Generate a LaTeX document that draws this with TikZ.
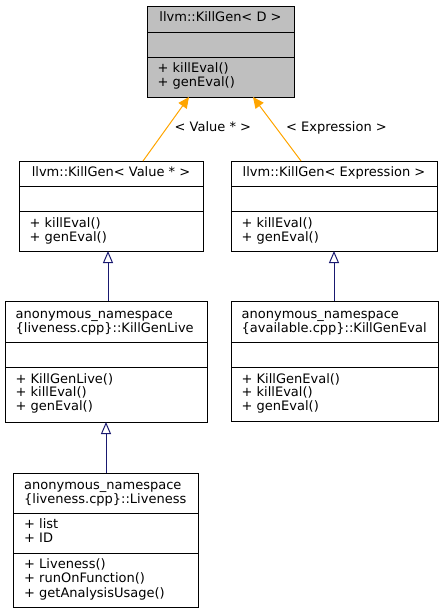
\documentclass[tikz,border=0pt]{standalone}
\usepackage{fontspec}
\setmainfont{DejaVu Sans}
\usetikzlibrary{arrows.meta}
\definecolor{boxgray}{HTML}{BFBFBF}
\definecolor{edgeline}{HTML}{000000}
\definecolor{tmplorange}{HTML}{FFA500}
\definecolor{inhnavy}{HTML}{191970}
\newcommand{\usc}{\char"5F\relax}
\begin{document}
\begin{tikzpicture}[x=1pt,y=-1pt,
  cls/.style={draw=edgeline, line width=1pt, anchor=north west, inner sep=0pt, outer sep=0pt},
  div/.style={draw=edgeline, line width=1pt},
  txt/.style={anchor=base west, inner sep=0pt, font=\fontsize{13}{14}\selectfont, text=black},
  ttl/.style={anchor=base, inner sep=0pt, font=\fontsize{13}{14}\selectfont, text=black},
  tmpl/.style={draw=tmplorange, line width=1pt, -{Triangle[length=11pt,width=10pt,fill=tmplorange]}},
  inh/.style={draw=inhnavy, line width=1pt, -{Triangle[open,length=12pt,width=10pt,fill=white]}},
]
\useasboundingbox (0,0) rectangle (445,613);

% ---------- class boxes ----------
\node[cls, fill=boxgray, minimum width=147pt, minimum height=91pt] (A) at (147,6) {};
\node[cls, minimum width=184pt, minimum height=90pt] (B) at (19,161) {};
\node[cls, minimum width=206pt, minimum height=90pt] (C) at (231,161) {};
\node[cls, minimum width=202pt, minimum height=121pt] (D) at (5,301) {};
\node[cls, minimum width=207pt, minimum height=120pt] (E) at (231,301) {};
\node[cls, minimum width=185pt, minimum height=134pt] (F) at (13,473) {};

% ---------- compartments ----------
\draw[div] (147,32) -- (294,32);
\draw[div] (147,57) -- (294,57);
\draw[div] (19,186) -- (203,186);
\draw[div] (19,211) -- (203,211);
\draw[div] (231,186) -- (437,186);
\draw[div] (231,211) -- (437,211);
\draw[div] (5,342) -- (207,342);
\draw[div] (5,367) -- (207,367);
\draw[div] (231,342) -- (438,342);
\draw[div] (231,367) -- (438,367);
\draw[div] (13,513) -- (198,513);
\draw[div] (13,553) -- (198,553);

% ---------- texts ----------
\node[ttl] (At) at (220.5,21) {llvm::KillGen< D >};
\node[txt] (Am1) at (157.5,72.7) {+ killEval()};
\node[txt] (Am2) at (157.5,86.4) {+ genEval()};

\node[ttl] (Bt) at (111,176.3) {llvm::KillGen< Value * >};
\node[txt] (Bm1) at (29.5,227.5) {+ killEval()};
\node[txt] (Bm2) at (29.5,241.2) {+ genEval()};

\node[ttl] (Ct) at (334,176.3) {llvm::KillGen< Expression >};
\node[txt] (Cm1) at (241.5,227.5) {+ killEval()};
\node[txt] (Cm2) at (241.5,241.2) {+ genEval()};

\node[txt] (Dt1) at (15.5,318.3) {anonymous\usc namespace};
\node[txt] (Dt2) at (15.5,332.3) {\{liveness.cpp\}::KillGenLive};
\node[txt] (Dm1) at (15.5,383) {+ KillGenLive()};
\node[txt] (Dm2) at (15.5,396.7) {+ killEval()};
\node[txt] (Dm3) at (15.5,410.4) {+ genEval()};

\node[txt] (Et1) at (241.5,318.3) {anonymous\usc namespace};
\node[txt] (Et2) at (241.5,332.3) {\{available.cpp\}::KillGenEval};
\node[txt] (Em1) at (241.5,383) {+ KillGenEval()};
\node[txt] (Em2) at (241.5,396.7) {+ killEval()};
\node[txt] (Em3) at (241.5,410.4) {+ genEval()};

\node[txt] (Ft1) at (24,489.3) {anonymous\usc namespace};
\node[txt] (Ft2) at (24,503.3) {\{liveness.cpp\}::Liveness};
\node[txt] (Fa1) at (24,528.7) {+ list};
\node[txt] (Fa2) at (24,542.7) {+ ID};
\node[txt] (Fm1) at (24,568.5) {+ Liveness()};
\node[txt] (Fm2) at (24,582.8) {+ runOnFunction()};
\node[txt] (Fm3) at (24,597.1) {+ getAnalysisUsage()};

% ---------- connectors ----------
\coordinate (xb) at (143,0);
\coordinate (xab) at (189,0);
\coordinate (xc) at (301,0);
\coordinate (xac) at (253,0);
\coordinate (xbd) at (108,0);
\coordinate (xce) at (334,0);
\coordinate (xdf) at (106,0);

\draw[tmpl] (B.north -| xb) -- (A.south -| xab);
\draw[tmpl] (C.north -| xc) -- (A.south -| xac);
\draw[inh] (D.north -| xbd) -- (B.south -| xbd);
\draw[inh] (E.north -| xce) -- (C.south -| xce);
\draw[inh] (F.north -| xdf) -- (D.south -| xdf);

\node[txt] (L1) at (174.5,131.5) {< Value * >};
\node[txt] (L2) at (286,131.5) {< Expression >};
\end{tikzpicture}
\end{document}
